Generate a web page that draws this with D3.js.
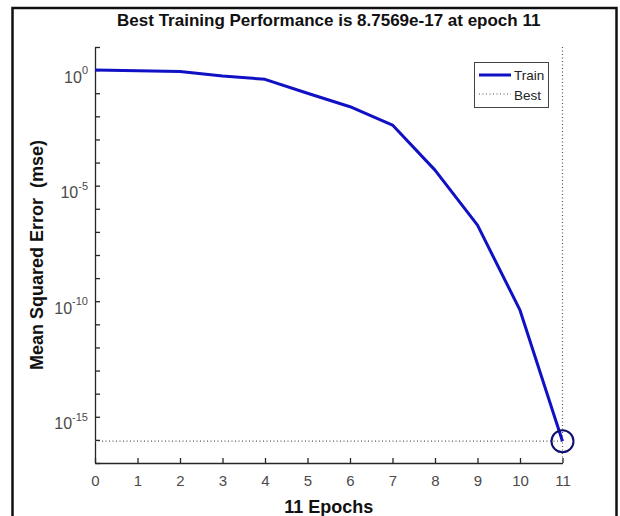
<!DOCTYPE html>
<html>
<head>
<meta charset="utf-8">
<script src="https://cdn.jsdelivr.net/npm/d3@7"></script>
<style>
  body { margin: 0; background: #fff; }
  text { font-family: "Liberation Sans", Arial, sans-serif; }
</style>
</head>
<body>
<script>
const width = 620;
const height = 516;

// training record
const epochs = [0, 1, 2, 3, 4, 5, 6, 7, 8, 9, 10, 11];
const trainMse = [1.0, 0.95, 0.88, 0.56, 0.40, 0.10, 0.026, 4.2e-3, 4.7e-5, 1.95e-7, 4.1e-11, 8.7569e-17];
const bestEpoch = 11;
const bestMse = 8.7569e-17;
const xTicks = [0, 1, 2, 3, 4, 5, 6, 7, 8, 9, 10, 11];
const yLabelExps = [0, -5, -10, -15];
const yDecades = d3.range(1, -18, -1);

const margin = {left: 95, right: 57.5, top: 47, bottom: 53};

const svg = d3.create('svg')
  .attr('width', width)
  .attr('height', height)
  .style('background-color', '#fff');

document.body.appendChild(svg.node());

// outer figure frame
svg.append('rect')
  .attr('x', 12.5).attr('y', 8)
  .attr('width', 604).attr('height', 530)
  .attr('fill', 'none')
  .attr('stroke', '#111')
  .attr('stroke-width', 2.5);

const x = d3.scaleLinear()
  .domain([0, 11])
  .range([margin.left, width - margin.right]);

const y = d3.scaleLog()
  .domain([1e-17, 1e1])
  .range([height - margin.bottom, margin.top]);

// x axis
const xAxis = svg.append('g')
  .attr('transform', `translate(0,${height - margin.bottom})`)
  .call(d3.axisBottom(x).tickValues(xTicks).tickFormat(d3.format('d'))
    .tickSizeInner(-5).tickSizeOuter(0).tickPadding(12));
xAxis.selectAll('text').attr('font-size', 15).attr('fill', '#4a4a4a')
  .style('font-family', '"Liberation Sans", Arial, sans-serif');
xAxis.select('.domain').attr('stroke', '#262626').attr('stroke-width', 1.3);
xAxis.selectAll('.tick line').attr('stroke', '#262626').attr('stroke-width', 1.3);

// y axis
const yAxis = svg.append('g')
  .attr('transform', `translate(${margin.left},0)`)
  .call(d3.axisLeft(y).tickValues(yDecades.map(e => Math.pow(10, e)))
    .tickFormat('').tickSizeInner(-5).tickSizeOuter(0).tickPadding(7));
yAxis.select('.domain').attr('stroke', '#262626').attr('stroke-width', 1.3);
yAxis.selectAll('.tick line').attr('stroke', '#262626').attr('stroke-width', 1.3);
yAxis.selectAll('.tick text').each(function(d) {
  const e = Math.round(Math.log10(d));
  if (!yLabelExps.includes(e)) return;
  const t = d3.select(this)
    .attr('dy', 12)
    .attr('font-size', 16)
    .attr('fill', '#4a4a4a')
    .style('font-family', '"Liberation Sans", Arial, sans-serif');
  t.append('tspan').text('10');
  t.append('tspan').attr('dy', -8.5).attr('font-size', 11).text(e);
});

// best markers
svg.append('line')
  .attr('x1', x(0)).attr('x2', x(bestEpoch))
  .attr('y1', y(bestMse)).attr('y2', y(bestMse))
  .attr('stroke', '#555').attr('stroke-width', 1.2)
  .attr('stroke-dasharray', '1,2.5');
svg.append('line')
  .attr('x1', x(bestEpoch)).attr('x2', x(bestEpoch))
  .attr('y1', y(1e1)).attr('y2', y(1e-17))
  .attr('stroke', '#555').attr('stroke-width', 1.2)
  .attr('stroke-dasharray', '1,2.5');

// training curve
const line = d3.line()
  .x((d, i) => x(epochs[i]))
  .y(d => y(d));
svg.append('path')
  .datum(trainMse)
  .attr('d', line)
  .attr('fill', 'none')
  .attr('stroke', '#1010c4')
  .attr('stroke-width', 3)
  .attr('stroke-linejoin', 'round');

svg.append('circle')
  .attr('cx', x(bestEpoch)).attr('cy', y(bestMse))
  .attr('r', 11)
  .attr('fill', 'none')
  .attr('stroke', '#10106e')
  .attr('stroke-width', 2);

// title and labels
svg.append('text')
  .attr('x', (x(0) + x(11)) / 2).attr('y', 26)
  .attr('text-anchor', 'middle')
  .attr('font-size', 17).attr('font-weight', 'bold').attr('fill', '#111')
  .text('Best Training Performance is 8.7569e-17 at epoch 11');

svg.append('text')
  .attr('x', (x(0) + x(11)) / 2).attr('y', 513)
  .attr('text-anchor', 'middle')
  .attr('font-size', 18).attr('font-weight', 'bold').attr('fill', '#111')
  .text('11 Epochs');

svg.append('text')
  .attr('transform', `translate(43,${(y(1e1) + y(1e-17)) / 2}) rotate(-90)`)
  .attr('text-anchor', 'middle')
  .attr('font-size', 18).attr('font-weight', 'bold').attr('fill', '#111')
  .style('white-space', 'pre')
  .text('Mean Squared Error  (mse)');

// legend
const legend = svg.append('g');
legend.append('rect')
  .attr('x', 474.5).attr('y', 62.5)
  .attr('width', 74).attr('height', 45)
  .attr('fill', '#fff').attr('stroke', '#444').attr('stroke-width', 1);
legend.append('line')
  .attr('x1', 479).attr('x2', 511).attr('y1', 75).attr('y2', 75)
  .attr('stroke', '#1010c4').attr('stroke-width', 3);
legend.append('line')
  .attr('x1', 479).attr('x2', 511).attr('y1', 94).attr('y2', 94)
  .attr('stroke', '#555').attr('stroke-width', 1.2)
  .attr('stroke-dasharray', '1,2.5');
legend.append('text')
  .attr('x', 514).attr('y', 80)
  .attr('font-size', 13.5).attr('fill', '#222')
  .text('Train');
legend.append('text')
  .attr('x', 514).attr('y', 99.5)
  .attr('font-size', 13.5).attr('fill', '#222')
  .text('Best');
</script>
</body>
</html>
